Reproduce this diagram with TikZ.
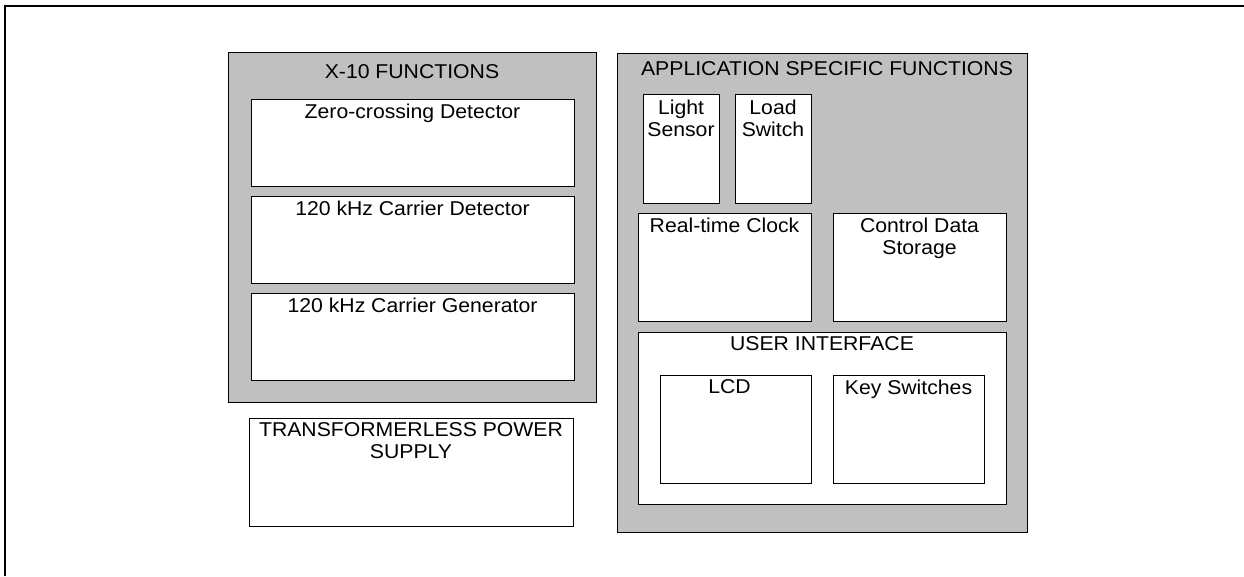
\documentclass[tikz,border=0pt]{standalone}
\usepackage{fontspec}
\setmainfont{Liberation Sans}[FakeStretch=1.06]
\usetikzlibrary{positioning}
\definecolor{grpgrey}{HTML}{C0C0C0}

\begin{document}
\begin{tikzpicture}[x=1pt, y=-1pt, font=\fontsize{20}{22}\selectfont,
      grp/.style={draw, line width=1pt, fill=grpgrey, inner sep=0pt},
      blk/.style={draw, line width=1pt, fill=white, inner sep=0pt},
      ttl/.style={inner sep=0pt, align=center}]
  \useasboundingbox (0,0) rectangle (1244,576);
  % page frame
  \draw[line width=2pt] (5,576) -- (5,6) -- (1244,6);

  % X-10 functions
  \node[grp, minimum width=368pt, minimum height=350pt] (x10) at (412,227) {};
  \node[ttl, below=13pt of x10.north] (x10t) {X-10 FUNCTIONS};
  \node[blk, minimum width=323pt, minimum height=87pt] (zero) at (412.5,142.5) {};
  \node[ttl, below=5pt of zero.north] (zerot) {Zero-crossing Detector};
  \node[blk, minimum width=323pt, minimum height=87pt] (cdet) at (412.5,240) {};
  \node[ttl, below=5pt of cdet.north] (cdett) {120 kHz Carrier Detector};
  \node[blk, minimum width=323pt, minimum height=87pt] (cgen) at (412.5,337) {};
  \node[ttl, below=5pt of cgen.north] (cgent) {120 kHz Carrier Generator};

  \node[blk, minimum width=324pt, minimum height=108pt] (psu) at (411,472) {};
  \node[ttl, below=5pt of psu.north] (psut) {TRANSFORMERLESS POWER\\SUPPLY};

  % application specific functions
  \node[grp, minimum width=410pt, minimum height=479pt] (app) at (822,292.5) {};
  \node[ttl, below=9pt of app.north, xshift=5pt] (appt) {APPLICATION SPECIFIC FUNCTIONS};
  \node[blk, minimum width=76pt, minimum height=109pt] (light) at (681,148.5) {};
  \node[ttl, below=6pt of light.north] (lightt) {Light\\Sensor};
  \node[blk, minimum width=76pt, minimum height=109pt] (load) at (773,148.5) {};
  \node[ttl, below=6pt of load.north] (loadt) {Load\\Switch};
  \node[blk, minimum width=173pt, minimum height=108pt] (rtc) at (724.5,267) {};
  \node[ttl, below=5pt of rtc.north] (rtct) {Real-time Clock};
  \node[blk, minimum width=173pt, minimum height=108pt] (store) at (919.5,267) {};
  \node[ttl, below=5pt of store.north] (storet) {Control Data\\Storage};

  % user interface
  \node[blk, minimum width=368pt, minimum height=172pt] (ui) at (822,418) {};
  \node[ttl, below=5pt of ui.north] (uit) {USER INTERFACE};
  \node[blk, minimum width=151pt, minimum height=108pt] (lcd) at (735.5,429) {};
  \node[ttl, below=5pt of lcd.north, xshift=-6pt] (lcdt) {LCD};
  \node[blk, minimum width=151pt, minimum height=108pt] (keys) at (908.5,429) {};
  \node[ttl, below=5pt of keys.north] (keyst) {Key Switches};
\end{tikzpicture}
\end{document}
